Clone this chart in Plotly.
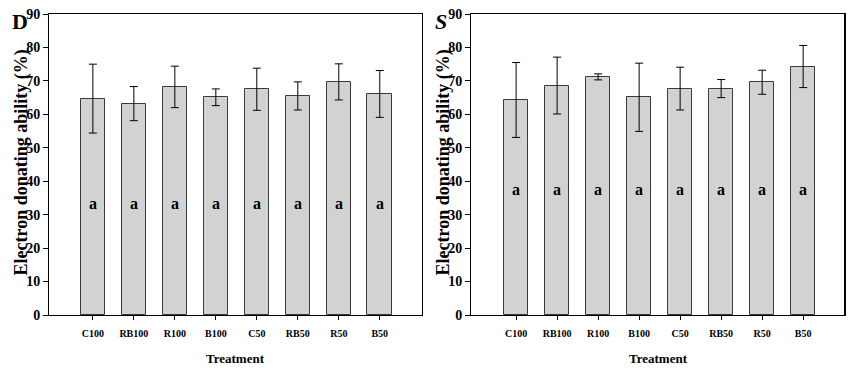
import plotly.graph_objects as go

categories = ["C100", "RB100", "R100", "B100", "C50", "RB50", "R50", "B50"]
d_values = [64.7, 63.2, 68.2, 65.1, 67.5, 65.5, 69.7, 66.1]
d_errors = [10.3, 5.1, 6.2, 2.5, 6.3, 4.2, 5.4, 7.0]
s_values = [64.3, 68.6, 71.2, 65.1, 67.7, 67.7, 69.6, 74.3]
s_errors = [11.2, 8.5, 0.9, 10.2, 6.4, 2.7, 3.6, 6.3]
d_letters = ["a"] * 8
s_letters = ["a"] * 8
y_ticks = [0, 10, 20, 30, 40, 50, 60, 70, 80, 90]

OFF = 8  # page body margin
W, H = 862 - OFF, 373 - OFF
SERIF = "Liberation Serif, Times New Roman, serif"

def px(x):
    return (x - OFF) / W

def py(y):
    return 1 - (y - OFF) / H

ytop, ybot = 14, 315
panels = [
    dict(vals=d_values, errs=d_errors, letters=d_letters, letter_y=33.2,
         x0=49, x1=422, rng=[-1.07, 8.03], tag="D", italic=False, tagx=20),
    dict(vals=s_values, errs=s_errors, letters=s_letters, letter_y=37.6,
         x0=471, x1=845, rng=[-1.1, 8.02], tag="S", italic=True, tagx=441),
]

fig = go.Figure()
annotations = []
shapes = []
xs = list(range(len(categories)))

for i, p in enumerate(panels):
    sfx = "" if i == 0 else str(i + 1)
    fig.add_trace(go.Bar(
        x=xs, y=p["vals"], width=0.6,
        marker=dict(color="#d2d2d2", line=dict(color="#3a3a3a", width=1)),
        error_y=dict(type="data", array=p["errs"], visible=True,
                     color="black", thickness=1, width=4),
        xaxis="x" + sfx, yaxis="y" + sfx, showlegend=False,
    ))
    axis_common = dict(showline=True, linecolor="black", linewidth=1, mirror=True,
                       showgrid=False, zeroline=False, ticks="outside",
                       tickcolor="black", automargin=False, ticklabeloverflow="allow")
    fig.layout["xaxis" + sfx] = dict(
        domain=[px(p["x0"]), px(p["x1"])], range=p["rng"], anchor="y" + sfx,
        tickmode="array", tickvals=xs, ticktext=categories, ticklen=4,
        tickfont=dict(family=SERIF, size=10, color="black", weight="bold"),
        ticklabelstandoff=5, **axis_common)
    fig.layout["yaxis" + sfx] = dict(
        domain=[py(ybot), py(ytop)], range=[0, 90], anchor="x" + sfx,
        tickmode="array", tickvals=y_ticks, ticklen=5,
        tickfont=dict(family=SERIF, size=14, color="black", weight="bold"),
        **axis_common)
    # treatment letters
    for xi, lt in zip(xs, p["letters"]):
        annotations.append(dict(x=xi, y=p["letter_y"], xref="x" + sfx, yref="y" + sfx,
                                text=lt, showarrow=False,
                                font=dict(family=SERIF, size=16, color="black", weight="bold")))
    # y title
    annotations.append(dict(x=px(p["x0"] - 28), y=py((ytop + ybot) / 2 - 2), xref="paper", yref="paper",
                            text="Electron donating ability (%)", textangle=-90, showarrow=False,
                            xanchor="center", yanchor="middle",
                            font=dict(family=SERIF, size=18, color="black", weight="bold")))
    # x title
    annotations.append(dict(x=px((p["x0"] + p["x1"]) / 2), y=py(358), xref="paper", yref="paper",
                            text="Treatment", showarrow=False, xanchor="center", yanchor="middle",
                            font=dict(family=SERIF, size=13, color="black", weight="bold")))
    # panel tag
    annotations.append(dict(x=px(p["tagx"]), y=py(22), xref="paper", yref="paper",
                            text=("<i>%s</i>" % p["tag"]) if p["italic"] else p["tag"],
                            showarrow=False, xanchor="center", yanchor="middle",
                            font=dict(family=SERIF, size=22, color="black", weight="bold")))

shapes.append(dict(type="line", xref="paper", yref="paper",
                   x0=px(845), x1=px(845), y0=py(ybot), y1=py(ytop),
                   line=dict(color="black", width=2)))

fig.update_layout(width=W, height=H, margin=dict(l=0, r=0, t=0, b=0),
                  paper_bgcolor="white", plot_bgcolor="white",
                  annotations=annotations, shapes=shapes, bargap=0)
fig.write_html("out.html")
